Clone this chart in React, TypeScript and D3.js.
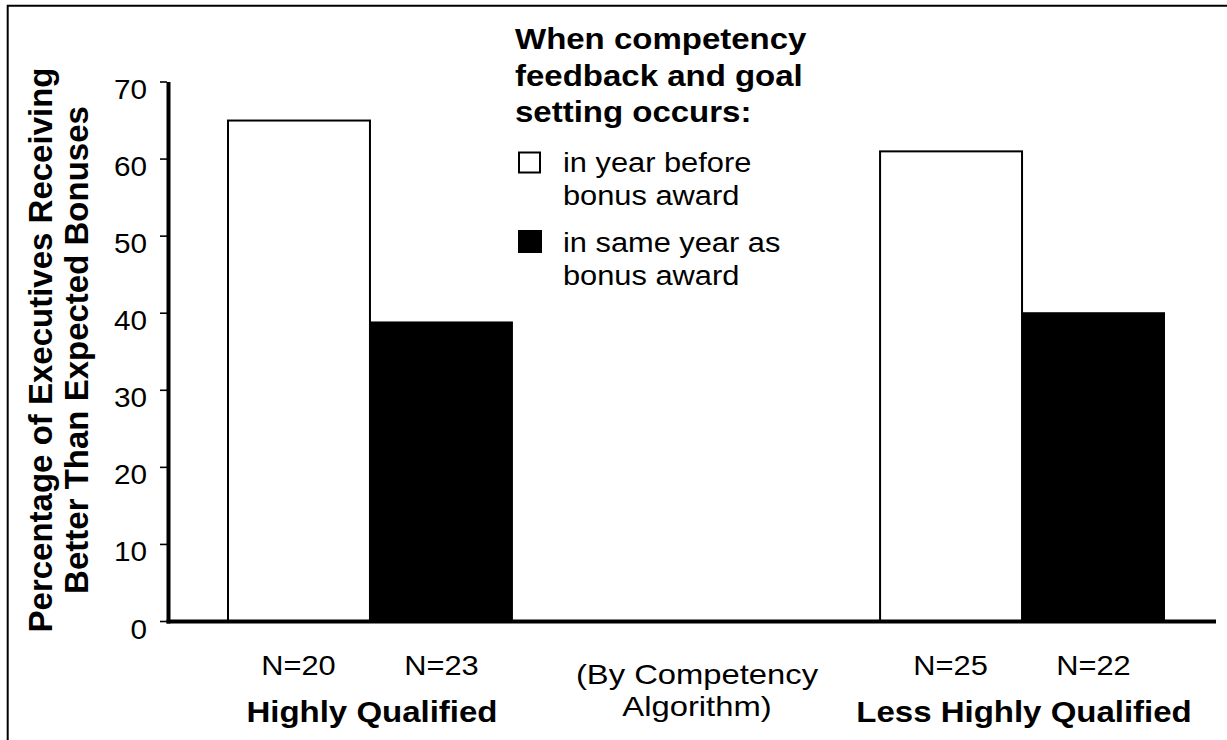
import React from "react";
import * as d3 from "d3";

const groups = ["Highly Qualified", "(By Competency Algorithm)", "Less Highly Qualified"];
const groupLabelLines = [["Highly Qualified"], ["(By Competency", "Algorithm)"], ["Less Highly Qualified"]];
const seriesKeys = ["before", "same"];
const seriesLabels = [["in year before", "bonus award"], ["in same year as", "bonus award"]];
const beforeValues: (number | null)[] = [65, null, 61];
const sameValues: (number | null)[] = [38.8, null, 40];
const beforeN = ["N=20", "", "N=25"];
const sameN = ["N=23", "", "N=22"];
const yTicks = [0, 10, 20, 30, 40, 50, 60, 70];
const legendTitle = ["When competency", "feedback and goal", "setting occurs:"];
const yTitle = ["Percentage of Executives Receiving", "Better Than Expected Bonuses"];

const FONT = "'Liberation Sans', Arial, Helvetica, sans-serif";
const W = 1227;
const H = 740;
const SX = 1.1;

function T(props: {
  x: number; y: number; size: number; bold?: boolean; anchor?: string; sx?: number; children: React.ReactNode;
}) {
  const { x, y, size, bold, anchor = "start", sx = SX, children } = props;
  return (
    <text
      transform={`translate(${x},${y}) scale(${sx},1)`}
      fontFamily={FONT}
      fontSize={size}
      fontWeight={bold ? "bold" : "normal"}
      textAnchor={anchor}
      fill="#000"
    >
      {children}
    </text>
  );
}

export default function App() {
  const x = d3.scaleBand<string>().domain(groups).range([227, 1165]).paddingInner(0.123);
  const xs = d3.scaleBand<string>().domain(seriesKeys).range([0, x.bandwidth()]);
  const y = d3.scaleLinear().domain([0, 70]).range([621.5, 82]);

  const bars: { g: string; k: string; v: number; n: string }[] = [];
  groups.forEach((g, i) => {
    if (beforeValues[i] != null) bars.push({ g, k: "before", v: beforeValues[i] as number, n: beforeN[i] });
    if (sameValues[i] != null) bars.push({ g, k: "same", v: sameValues[i] as number, n: sameN[i] });
  });

  return (
    <svg
      width={W}
      height={H}
      style={{ position: "absolute", left: 0, top: 0, background: "#fff", display: "block" }}
    >
      <rect x={0} y={0} width={W} height={H} fill="#fff" />
      {/* frame */}
      <path d={`M7.7,${H} V5.8 H${W}`} fill="none" stroke="#000" strokeWidth={2} />

      {/* bars */}
      {bars.map((b, i) => {
        const bx = (x(b.g) as number) + (xs(b.k) as number);
        const bw = xs.bandwidth();
        const top = y(b.v);
        return b.k === "before" ? (
          <rect key={i} x={bx + 1} y={top} width={bw - 1} height={y(0) - top} fill="#fff" stroke="#000" strokeWidth={2} />
        ) : (
          <rect key={i} x={bx} y={top - 1} width={bw} height={y(0) - top + 1} fill="#000" />
        );
      })}

      {/* N labels */}
      {bars.map((b, i) => (
        <T key={"n" + i} x={(x(b.g) as number) + (xs(b.k) as number) + xs.bandwidth() / 2} y={675} size={28} anchor="middle">
          {b.n}
        </T>
      ))}

      {/* group labels */}
      {groups.map((g, i) => {
        const cx = (x(g) as number) + x.bandwidth() / 2;
        const lines = groupLabelLines[i];
        if (lines.length === 1) {
          return (
            <T key={"g" + i} x={cx + 2} y={722} size={30} bold anchor="middle">
              {lines[0]}
            </T>
          );
        }
        return (
          <g key={"g" + i}>
            {lines.map((l, j) => (
              <T key={j} x={cx + 1} y={684 + j * 31.5} size={28} sx={1.17} anchor="middle">
                {l}
              </T>
            ))}
          </g>
        );
      })}

      {/* axes */}
      <line x1={166.5} x2={1216} y1={y(0)} y2={y(0)} stroke="#000" strokeWidth={4} />
      <line x1={168.5} x2={168.5} y1={y(70)} y2={y(0) + 2} stroke="#000" strokeWidth={4} />
      {yTicks.map((t) => (
        <g key={"t" + t}>
          <line x1={160} x2={167} y1={y(t)} y2={y(t)} stroke="#000" strokeWidth={1.6} />
          <T x={147} y={y(t) + 17} size={27} anchor="end">
            {t}
          </T>
        </g>
      ))}

      {/* y title */}
      <g transform="translate(0,350) rotate(-90)">
        {yTitle.map((l, j) => (
          <text
            key={j}
            x={0}
            y={52 + j * 36}
            fontFamily={FONT}
            fontSize={33}
            fontWeight="bold"
            textAnchor="middle"
          >
            {l}
          </text>
        ))}
      </g>

      {/* legend */}
      {legendTitle.map((l, j) => (
        <T key={"lt" + j} x={515} y={49 + j * 36.5} size={30} bold>
          {l}
        </T>
      ))}
      <rect x={519} y={152.5} width={21} height={20} fill="#fff" stroke="#000" strokeWidth={2} />
      <rect x={518} y={230} width={24} height={23} fill="#000" />
      {seriesLabels.map((lines, si) =>
        lines.map((l, j) => (
          <T key={"sl" + si + j} x={563} y={172 + si * 80 + j * 33} size={28}>
            {l}
          </T>
        ))
      )}
    </svg>
  );
}
